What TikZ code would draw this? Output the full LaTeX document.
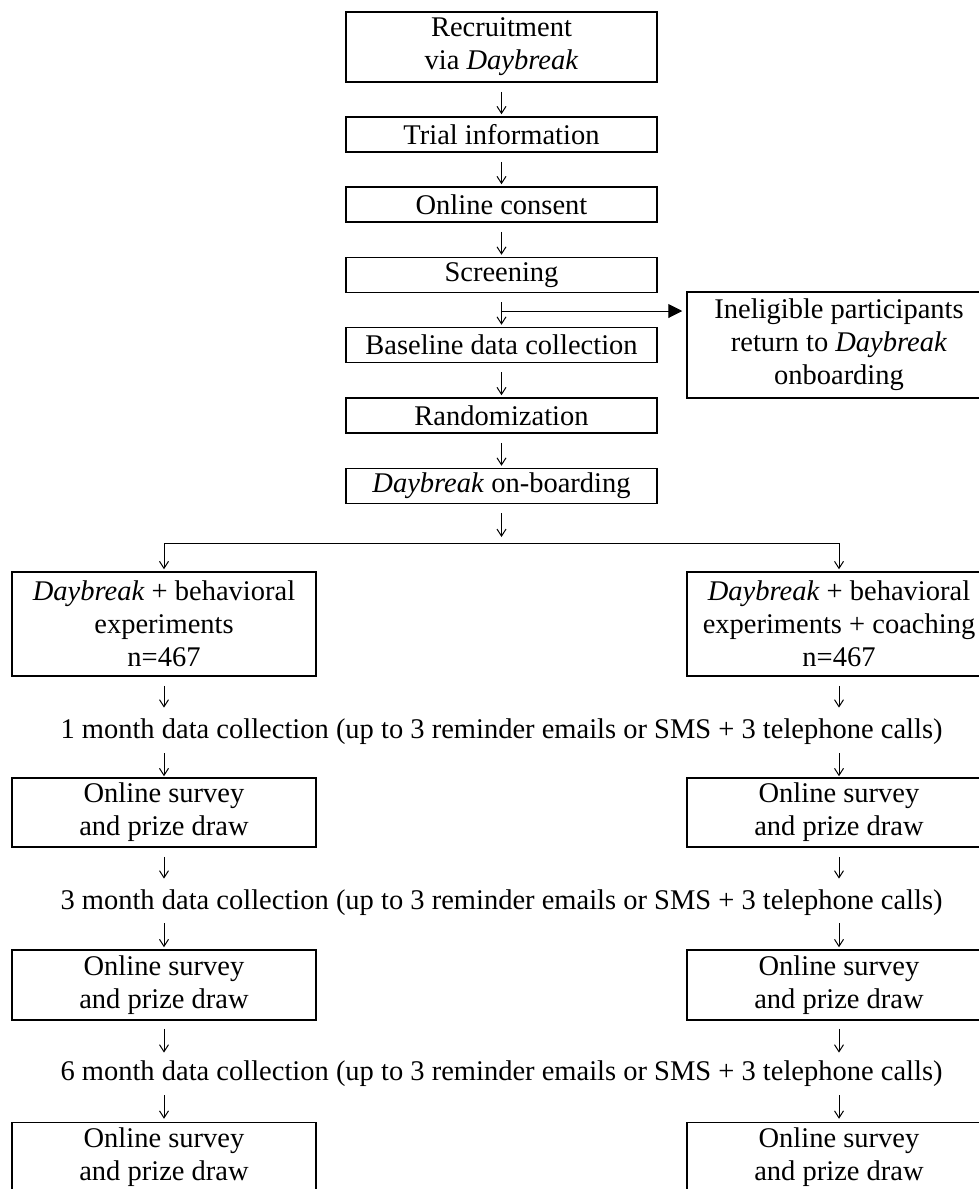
\documentclass[tikz,border=0pt]{standalone}
\usepackage{fontspec}
\setmainfont{Liberation Serif}
\usetikzlibrary{arrows.meta}
\begin{document}
\begin{tikzpicture}[x = 0.5pt, y = -0.5pt,
        box/.style = {draw, line width = 0.75pt, align = center, inner sep = 0pt, font = \fontsize{14.25}{16.5}\selectfont},
        mainbox/.style = {box, minimum width = 155.5pt, minimum height = 17.5pt},
        armbox/.style = {box, minimum width = 152pt},
        followup/.style = {inner sep = 0pt, text height = 10pt, text depth = 4pt, font = \fontsize{14.25}{16.5}\selectfont},
        arr/.style = {line width = 0.5pt, -{Straight Barb[length = 3.5pt, width = 4.5pt]}, shorten <= 4.5pt, shorten >= 1pt}]
        \useasboundingbox (0, 0) rectangle (979, 1189);
        \node[mainbox, minimum height = 35pt] (recruit) at (501.5, 47) {Recruitment\\via \textit{Daybreak}};
        \node[mainbox] (info) at (501.5, 134.5) {Trial information};
        \node[mainbox] (consent) at (501.5, 204.5) {Online consent};
        \node[mainbox] (screen) at (501.5, 275) {Screening};
        \node[mainbox] (baseline) at (501.5, 345) {Baseline data collection};
        \node[mainbox] (random) at (501.5, 415.5) {Randomization};
        \node[mainbox] (onboard) at (501.5, 486) {\textit{Daybreak} on-boarding};
        \node[armbox, minimum height = 53pt] (inelig) at (839, 345) {Ineligible participants\\return to \textit{Daybreak}\\onboarding};
        \node[armbox, minimum height = 52pt] (armA) at (164, 624) {\textit{Daybreak} + behavioral\\experiments\\n=467};
        \node[armbox, minimum height = 52pt] (armB) at (839, 624) {\textit{Daybreak} + behavioral\\experiments + coaching\\n=467};
        \node[followup, anchor = base] (m1) at (501.5, 738) {1 month data collection (up to 3 reminder emails or SMS + 3 telephone calls)};
        \node[followup, anchor = base] (m3) at (501.5, 909) {3 month data collection (up to 3 reminder emails or SMS + 3 telephone calls)};
        \node[followup, anchor = base] (m6) at (501.5, 1080) {6 month data collection (up to 3 reminder emails or SMS + 3 telephone calls)};
        \node[armbox, minimum height = 34.5pt] (surveyA1) at (164, 812.5) {Online survey\\and prize draw};
        \node[armbox, minimum height = 34.5pt] (surveyB1) at (839, 812.5) {Online survey\\and prize draw};
        \node[armbox, minimum height = 35pt] (surveyA3) at (164, 985) {Online survey\\and prize draw};
        \node[armbox, minimum height = 35pt] (surveyB3) at (839, 985) {Online survey\\and prize draw};
        \node[armbox, minimum height = 35pt] (surveyA6) at (164, 1157.5) {Online survey\\and prize draw};
        \node[armbox, minimum height = 35pt] (surveyB6) at (839, 1157.5) {Online survey\\and prize draw};
        \coordinate (split) at (501.5, 311);
        \coordinate (fork) at (501.5, 543);
        % main column
        \draw[arr] (recruit) -- (info);
        \draw[arr] (info) -- (consent);
        \draw[arr] (consent) -- (screen);
        \draw[arr] (screen) -- (baseline);
        \draw[line width = 0.5pt, -{Triangle[length = 7pt, width = 7pt]}, shorten >= 2pt] (split) -- (split -| inelig.west);
        \draw[arr] (baseline) -- (random);
        \draw[arr] (random) -- (onboard);
        \draw[arr, shorten >= 3pt] (onboard) -- (fork);
        \draw[line width = 0.5pt] (armA.north |- fork) -- (armB.north |- fork);
        \draw[arr, shorten <= 0pt] (armA.north |- fork) -- (armA);
        \draw[arr, shorten <= 0pt] (armB.north |- fork) -- (armB);
        % follow-up
        \draw[arr, shorten >= 5pt] (armA) -- (armA |- m1.north);
        \draw[arr, shorten >= 5pt] (armB) -- (armB |- m1.north);
        \draw[arr, shorten <= 3.5pt, shorten >= 0.5pt] (surveyA1 |- m1.south) -- (surveyA1);
        \draw[arr, shorten <= 3.5pt, shorten >= 0.5pt] (surveyB1 |- m1.south) -- (surveyB1);
        \draw[arr, shorten >= 5pt] (surveyA1) -- (surveyA1 |- m3.north);
        \draw[arr, shorten >= 5pt] (surveyB1) -- (surveyB1 |- m3.north);
        \draw[arr, shorten <= 3pt] (surveyA3 |- m3.south) -- (surveyA3);
        \draw[arr, shorten <= 3pt] (surveyB3 |- m3.south) -- (surveyB3);
        \draw[arr, shorten <= 4pt, shorten >= 3.5pt] (surveyA3) -- (surveyA3 |- m6.north);
        \draw[arr, shorten <= 4pt, shorten >= 3.5pt] (surveyB3) -- (surveyB3 |- m6.north);
        \draw[arr, shorten <= 3.5pt, shorten >= 1.5pt] (surveyA6 |- m6.south) -- (surveyA6);
        \draw[arr, shorten <= 3.5pt, shorten >= 1.5pt] (surveyB6 |- m6.south) -- (surveyB6);
    \end{tikzpicture}
\end{document}
